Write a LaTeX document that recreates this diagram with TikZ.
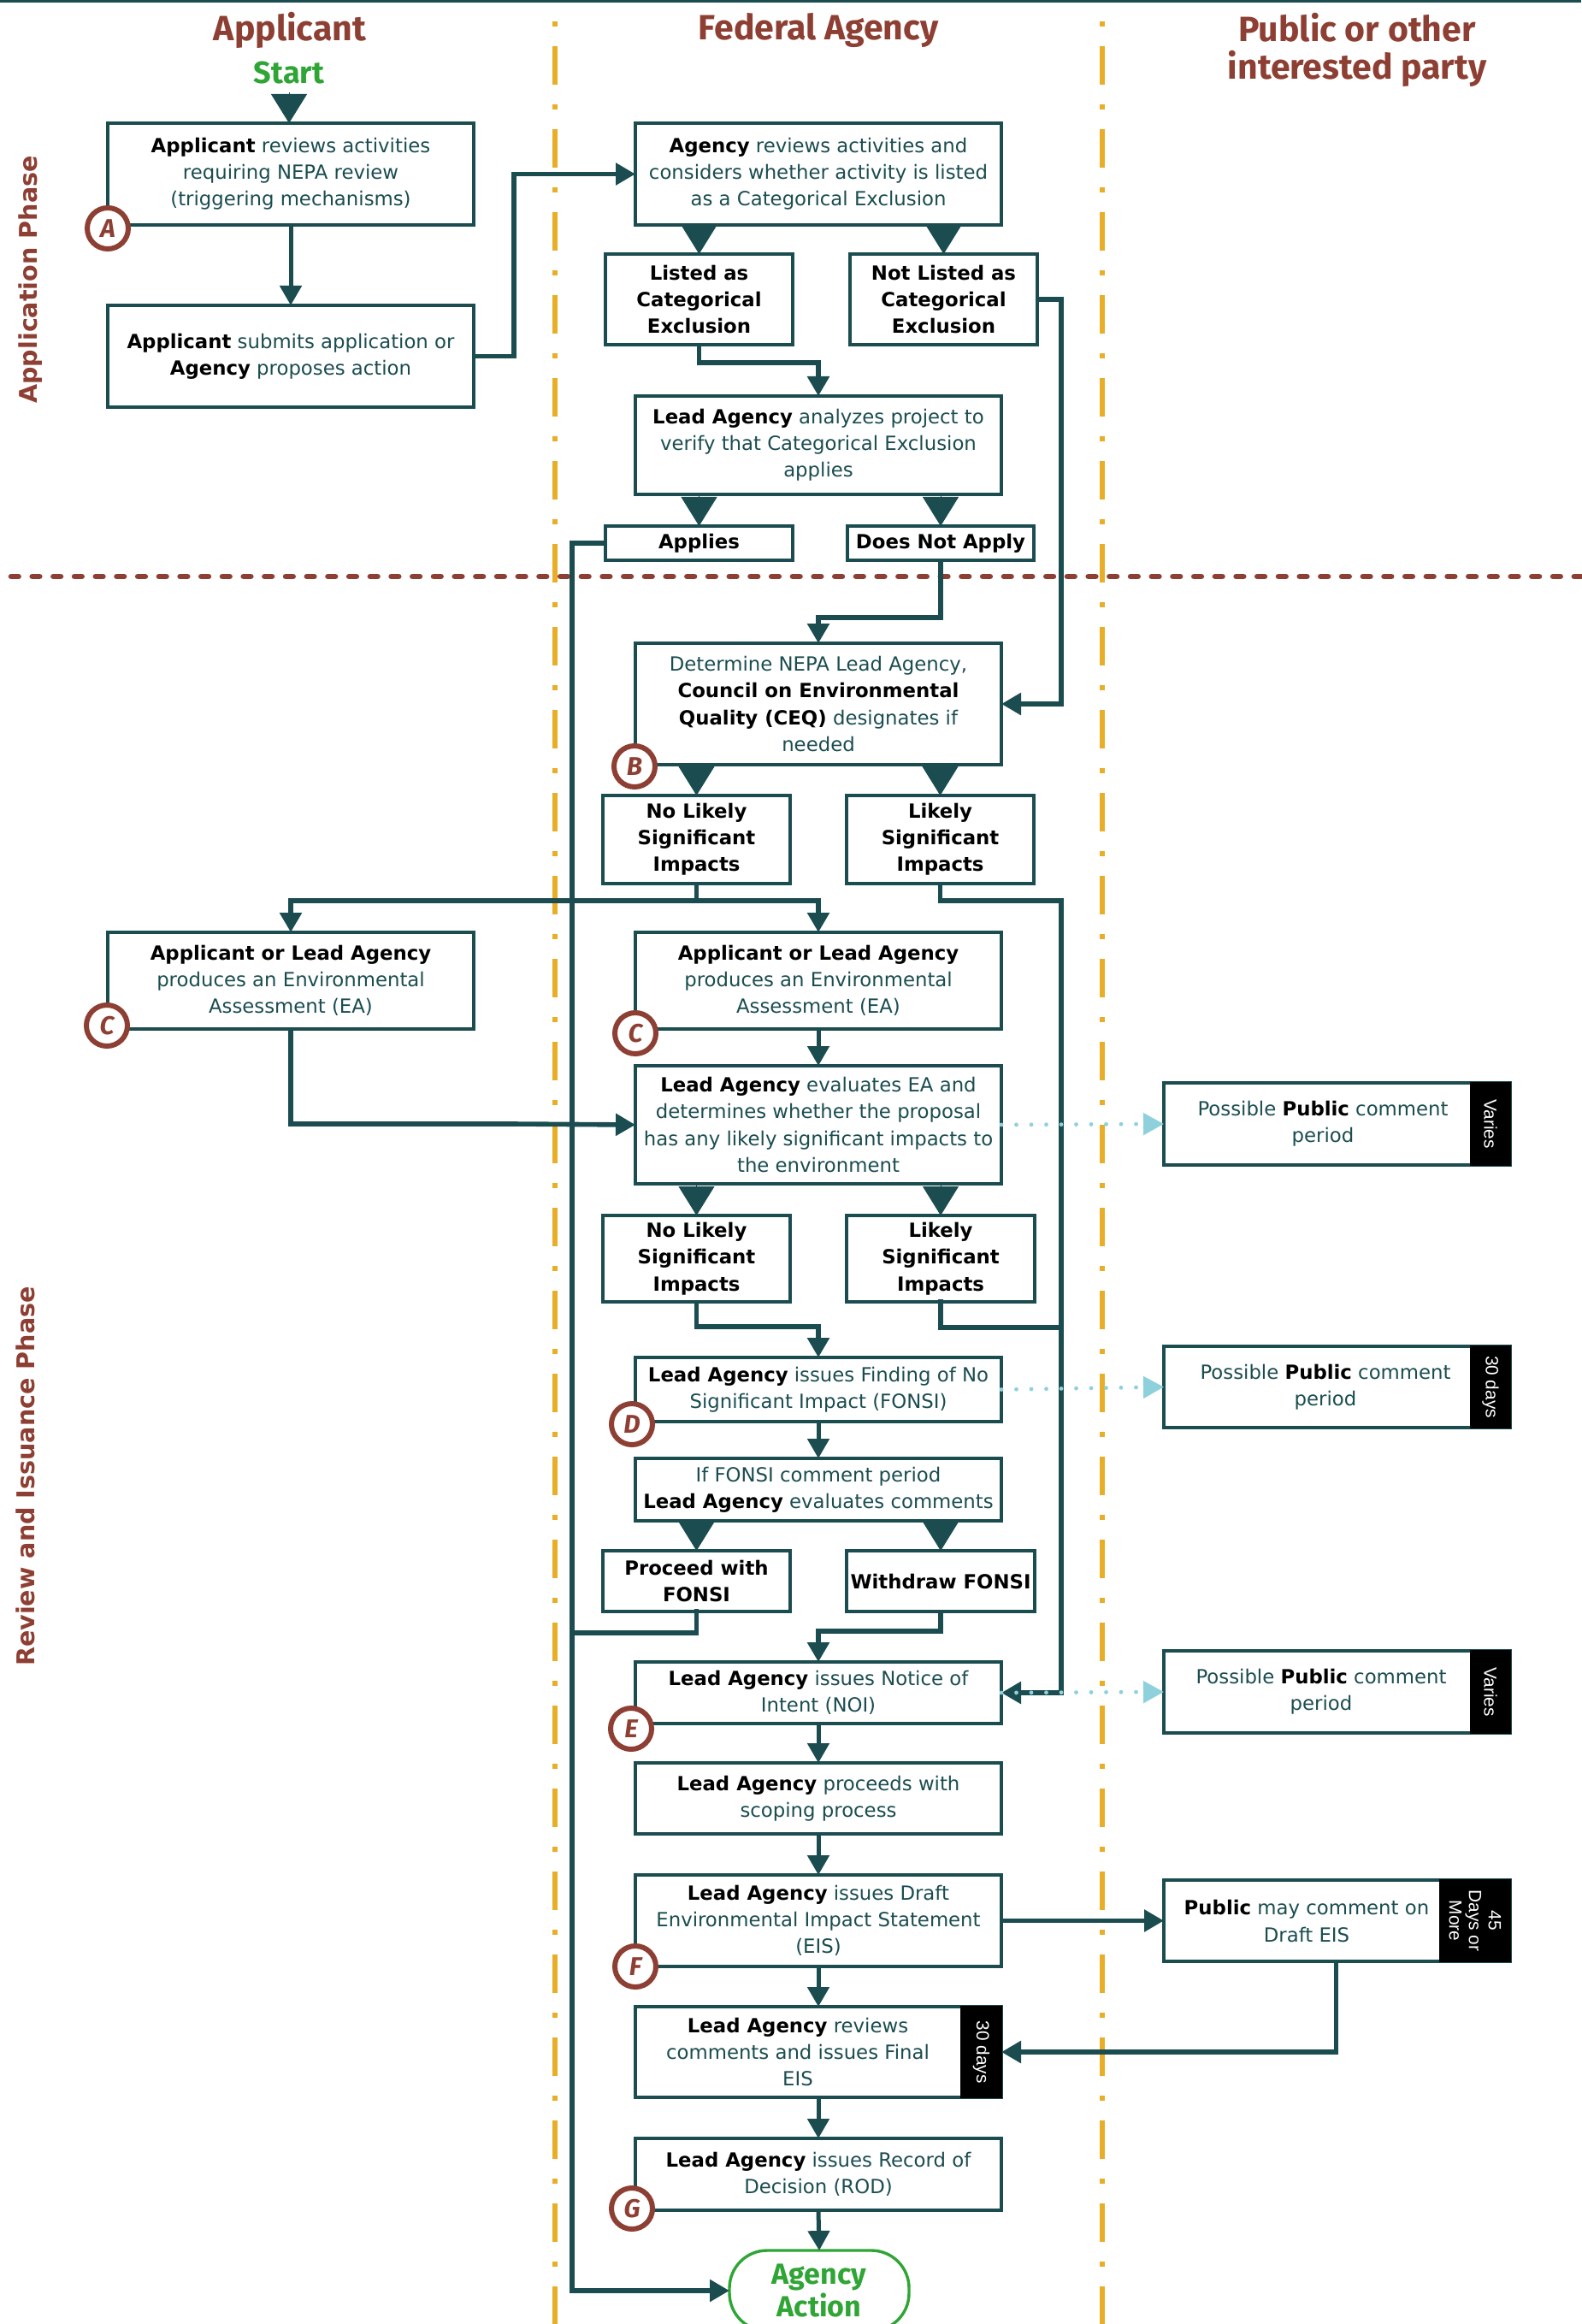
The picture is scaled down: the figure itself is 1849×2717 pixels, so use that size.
\documentclass[tikz,border=0pt]{standalone}
\usepackage{fontspec}
\usetikzlibrary{arrows.meta,calc,shapes.misc}
\setmainfont{DejaVu Sans}
\newfontfamily\headfont{Fira Sans}
\newfontfamily\sidefont{DejaVu Sans}
\newfontfamily\tabfont{Liberation Sans}
\definecolor{teal1}{HTML}{1B4D50}
\definecolor{rust}{HTML}{8E3F33}
\definecolor{gold}{HTML}{E9AE27}
\definecolor{sky}{HTML}{8ED1DC}
\definecolor{grn}{HTML}{2FA535}
\newcommand\bk[1]{\textbf{\color{black}#1}}
\tikzset{
  boxn/.style={draw=teal1,line width=1.7pt,fill=white,inner sep=0pt,outer sep=0pt,align=center,text=teal1,
    font=\fontsize{11.4}{15.6}\selectfont},
  boldn/.style={boxn,text=black,font=\fontsize{11.4}{15.6}\selectfont\bfseries},
  txtn/.style={inner sep=0pt,align=center,text=teal1,font=\fontsize{11.4}{15.6}\selectfont},
  tabn/.style={draw=black,line width=1pt,fill=black,inner sep=0pt,outer sep=0pt},
  tabtxt/.style={inner sep=0pt,align=center,text=white,rotate=-90,font=\tabfont\fontsize{10.4}{11.5}\selectfont},
  fat/.style={draw=teal1,fill=teal1,line width=.5pt,-{Triangle[length=17pt,width=21pt]}},
  arr/.style={draw=teal1,line width=2.5pt,-{Triangle[length=11.5pt,width=12.5pt]}},
  arrw/.style={draw=teal1,line width=2.8pt,-{Triangle[length=11.5pt,width=12.5pt]}},
  lin/.style={draw=teal1,line width=2.8pt,line cap=rect},
  dotarr/.style={draw=sky,line width=2.4pt,line cap=round,dash pattern=on 0pt off 8.75pt,-{Triangle[length=12pt,width=12.5pt,fill=sky]}},
  badge/.style={circle,draw=rust,line width=3pt,fill=white,minimum size=24pt,inner sep=0pt,outer sep=0pt,
    text=rust,font=\headfont\fontsize{15}{15}\selectfont\bfseries\itshape},
  head/.style={inner sep=0pt,align=center,text=rust,font=\headfont\fontsize{20.5}{22}\selectfont\bfseries},
  side/.style={inner sep=0pt,rotate=90,text=rust,font=\sidefont\fontsize{14.3}{16}\selectfont\bfseries},
  guidev/.style={draw=gold,line width=2.6pt,dash pattern=on 22.5pt off 11.7pt on 3pt off 11.3pt},
  guideh/.style={draw=rust,line width=3.3pt,line cap=round,dash pattern=on 4.3pt off 8.05pt},
}
% name, x1,y1,x2,y2, text, style
\newcommand\bx[7][boxn]{%
  \pgfmathsetmacro\bxcx{(#3+#5)/2}\pgfmathsetmacro\bxcy{(#4+#6)/2}%
  \pgfmathsetmacro\bxw{(#5-#3)*0.5}\pgfmathsetmacro\bxh{(#6-#4)*0.5}%
  \node[#1,minimum width=\bxw pt,minimum height=\bxh pt] (#2) at (\bxcx,\bxcy) {#7};}
\begin{document}
\begin{tikzpicture}[x=0.5pt,y=-0.5pt]
\useasboundingbox (0,0) rectangle (1849,2717);
\fill[white] (0,0) rectangle (1849,2717);
% guides
\coordinate (gvat) at (649,-43); \coordinate (gvab) at (649,2717);
\coordinate (gvbt) at (1289,-43); \coordinate (gvbb) at (1289,2717);
\draw[guidev] (gvat) -- (gvab);
\draw[guidev] (gvbt) -- (gvbb);
\coordinate (toplL) at (0,1.5); \coordinate (toplR) at (1849,1.5);
\draw[teal1,line width=1.6pt] (toplL) -- (toplR);
\coordinate (ghL) at (13,674); \coordinate (ghR) at (1849,674);
\draw[guideh] (ghL) -- (ghR);
% headings
\node[head] (hA) at (339,35) {Applicant};
\node[head] (hF) at (957,35) {Federal Agency};
\node[head] (hP) at (1587,58) {Public or other\\interested party};
\node[inner sep=0pt,minimum height=23pt,text=grn,font=\headfont\fontsize{18}{20}\selectfont\bfseries] (start) at (338,85) {Start};
\node[side] (sA) at (36,327) {Application Phase};
\node[side] (sR) at (30,1726) {Review and Issuance Phase};
% boxes: applicant column
\bx{a1}{126}{144}{554}{263}{\bk{Applicant} reviews activities\\requiring NEPA review\\(triggering mechanisms)}
\bx{a2}{126}{357}{554}{476}{\bk{Applicant} submits application or\\\bk{Agency} proposes action}
\bx{cl}{126}{1090}{554}{1203}{\bk{Applicant or Lead Agency}\\produces an Environmental\\Assessment (EA)}
% agency column
\bx{ag}{743}{144}{1171}{263}{\bk{Agency} reviews activities and\\considers whether activity is listed\\as a Categorical Exclusion}
\bx[boldn]{li}{708}{297}{927}{403}{Listed as\\Categorical\\Exclusion}
\bx[boldn]{nl}{994}{297}{1213}{403}{Not Listed as\\Categorical\\Exclusion}
\bx{la}{743}{463}{1171}{578}{\bk{Lead Agency} analyzes project to\\verify that Categorical Exclusion\\applies}
\bx[boldn]{ap}{708}{615}{927}{655}{Applies}
\bx[boldn]{dn}{991}{615}{1209}{655}{Does Not Apply}
\bx{de}{743}{752}{1171}{894}{Determine NEPA Lead Agency,\\\bk{Council on Environmental}\\\bk{Quality (CEQ)} designates if\\needed}
\bx[boldn]{nla}{705}{930}{924}{1033}{No Likely\\Significant\\Impacts}
\bx[boldn]{lia}{990}{930}{1209}{1033}{Likely\\Significant\\Impacts}
\bx{cm}{743}{1090}{1171}{1203}{\bk{Applicant or Lead Agency}\\produces an Environmental\\Assessment (EA)}
\bx{ev}{743}{1246}{1171}{1384}{\bk{Lead Agency} evaluates EA and\\determines whether the proposal\\has any likely significant impacts to\\the environment}
\bx[boldn]{nlb}{705}{1421}{924}{1522}{No Likely\\Significant\\Impacts}
\bx[boldn]{lib}{990}{1421}{1210}{1522}{Likely\\Significant\\Impacts}
\bx{fo}{743}{1587}{1171}{1662}{\bk{Lead Agency} issues Finding of No\\Significant Impact (FONSI)}
\bx{cf}{743}{1705}{1171}{1778}{If FONSI comment period\\\bk{Lead Agency} evaluates comments}
\bx[boldn]{pr}{705}{1813}{924}{1884}{Proceed with\\FONSI}
\bx[boldn]{wi}{990}{1813}{1210}{1884}{Withdraw FONSI}
\bx{no}{743}{1943}{1171}{2015}{\bk{Lead Agency} issues Notice of\\Intent (NOI)}
\bx{sc}{743}{2061}{1171}{2144}{\bk{Lead Agency} proceeds with\\scoping process}
\bx{dr}{743}{2192}{1171}{2299}{\bk{Lead Agency} issues Draft\\Environmental Impact Statement\\(EIS)}
\bx{fi}{743}{2346}{1171}{2452}{}
\bx[tabn]{fit}{1124}{2346}{1171}{2452}{}
\node[txtn] (fitx) at (933,2399) {\bk{Lead Agency} reviews\\comments and issues Final\\EIS};
\node[tabtxt] (fil) at (fit) {30 days};
\bx{ro}{743}{2500}{1171}{2584}{\bk{Lead Agency} issues Record of\\Decision (ROD)}
\node[draw=grn,line width=1.7pt,rounded corners=22pt,fill=white,minimum width=105pt,minimum height=47pt,inner sep=0pt,outer sep=0pt,anchor=center] (ac) at (958,2678) {};
\node[inner sep=0pt,align=center,text=grn,font=\headfont\fontsize{17}{18.6}\selectfont\bfseries] (actx) at (958,2678) {Agency\\Action};
% public column
\bx{p1}{1361}{1266}{1766}{1362}{}
\bx[tabn]{p1t}{1720}{1266}{1766}{1362}{}
\node[txtn] (p1x) at (1547,1314) {Possible \bk{Public} comment\\period};
\node[tabtxt] (p1l) at (p1t) {Varies};
\bx{p2}{1361}{1574}{1766}{1669}{}
\bx[tabn]{p2t}{1720}{1574}{1766}{1669}{}
\node[txtn] (p2x) at (1550,1622) {Possible \bk{Public} comment\\period};
\node[tabtxt] (p2l) at (p2t) {30 days};
\bx{p3}{1361}{1930}{1766}{2026}{}
\bx[tabn]{p3t}{1720}{1930}{1766}{2026}{}
\node[txtn] (p3x) at (1545,1978) {Possible \bk{Public} comment\\period};
\node[tabtxt] (p3l) at (p3t) {Varies};
\bx{p4}{1361}{2198}{1766}{2293}{}
\bx[tabn]{p4t}{1684}{2198}{1766}{2293}{}
\node[txtn] (p4x) at (1528,2246) {\bk{Public} may comment on\\Draft EIS};
\node[tabtxt] (p4l) at (p4t) {45\\Days or\\More};
% junction coordinates
\coordinate (j1) at (601,300);
\coordinate (j2) at (900,424);
\coordinate (j3) at (1241,600);
\coordinate (j4) at (669,1500);
\coordinate (j5) at (1000,722);
\coordinate (j6) at (600,1053);
\coordinate (j7) at (1241,1500);
\coordinate (j8) at (900,1551);
\coordinate (j9) at (1180,1552);
\coordinate (j10) at (700,1909);
\coordinate (j11) at (1000,1907);
\coordinate (j12) at (1562.5,2300);
\coordinate (j13) at (600,1314);
\coordinate (j14) at (1241,1053);
% fat arrows
\draw[fat] (start.south) -- (a1.north -| start.south);
\draw[fat] (ag.south -| li.north) -- (li.north);
\draw[fat] (ag.south -| nl.north) -- (nl.north);
\draw[fat] (la.south -| ap.north) -- (ap.north);
\draw[fat] (la.south -| dn.north) -- (dn.north);
\draw[fat] (de.south -| nla.north) -- (nla.north);
\draw[fat] (de.south -| lia.north) -- (lia.north);
\draw[fat] (ev.south -| nlb.north) -- (nlb.north);
\draw[fat] (ev.south -| lib.north) -- (lib.north);
\draw[fat] (cf.south -| pr.north) -- (pr.north);
\draw[fat] (cf.south -| wi.north) -- (wi.north);
% elbow connectors
\draw[arr] (a1.south) -- (a2.north);
\draw[arrw] (a2.east) -| (j1) |- (ag.west);
\draw[arrw] (li.south) |- (j2) -| (la.north);
\draw[arrw] (nl.east) -| (j3) |- (de.east);
\draw[arrw] (ap.west) -| (j4) |- (ac.west);
\draw[arrw] (dn.south) |- (j5) -| (de.north);
\draw[arrw] (nla.south) |- (j6) -| (cl.north);
\draw[arrw] (nla.south) |- (j6) -| (cm.north);
\draw[arrw] (lia.south) |- (j14) |- (no.east);
\draw[arrw] (cl.south) |- (j13) -- (ev.west);
\draw[arr] (cm.south) -- (ev.north);
\draw[arrw] (nlb.south) |- (j8) -| (fo.north);
\draw[lin] (lib.south) |- (j9) -| (j7);
\draw[arr] (fo.south) -- (cf.north);
\draw[lin] (pr.south) |- (j10) -| (j4);
\draw[arrw] (wi.south) |- (j11) -| (no.north);
\draw[arr] (no.south) -- (sc.north);
\draw[arr] (sc.south) -- (dr.north);
\draw[arr] (dr.south) -- (fi.north);
\draw[arr] (fi.south) -- (ro.north);
\draw[arr] (ro.south) -- (ac.north);
\draw[arrw] (dr.east) -- (p4.west |- dr.east);
\draw[arrw] (p4.south -| j12) |- (fi.east);
% dotted
\draw[dotarr] (ev.east) -- (p1.west);
\draw[dotarr] (fo.east) -- (p2.west);
\draw[dotarr] (no.east) -- (p3.west);
% badges
\node[badge] (bA) at (126,267) {A};
\node[badge] (bCl) at (125,1199) {C};
\node[badge] (bB) at (742,896) {B};
\node[badge] (bCm) at (743,1208) {C};
\node[badge] (bD) at (739,1665) {D};
\node[badge] (bE) at (738,2021) {E};
\node[badge] (bF) at (743,2299) {F};
\node[badge] (bG) at (739,2582) {G};
\end{tikzpicture}
\end{document}
